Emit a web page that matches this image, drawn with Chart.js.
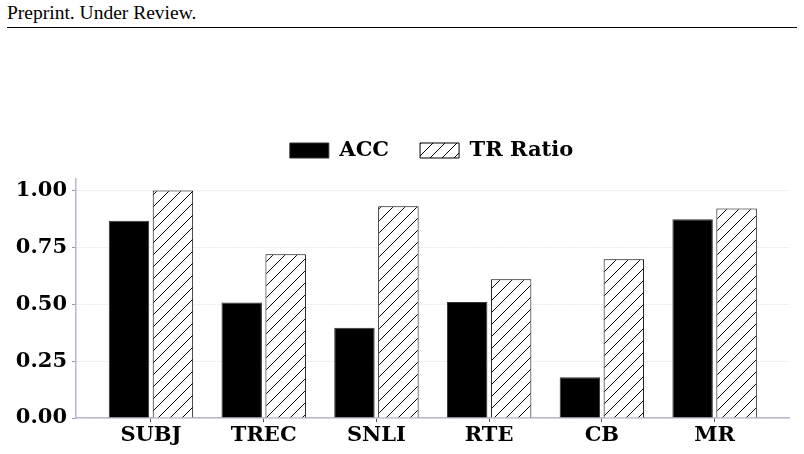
<!DOCTYPE html>
<html>
<head>
<meta charset="utf-8">
<script src="https://cdn.jsdelivr.net/npm/chart.js@4.4.1/dist/chart.umd.min.js"></script>
<style>
  html, body { margin: 0; padding: 0; background: #fff; }
  #wrap { position: relative; width: 804px; height: 454px; overflow: hidden; }
  #header { position: absolute; left: 7px; top: 2px; font-family: "Liberation Serif", "Times New Roman", serif; font-size: 19.5px; color: #000; }
  #rule { position: absolute; left: 7px; top: 26.5px; width: 790px; height: 0; border-top: 1.5px solid #000; }
  #c { position: absolute; left: 0; top: 0; }
</style>
</head>
<body>
<div id="wrap">
  <div id="header">Preprint. Under Review.</div>
  <div id="rule"></div>
  <canvas id="c" width="804" height="454"></canvas>
</div>
<script>
const categories = ["SUBJ", "TREC", "SNLI", "RTE", "CB", "MR"];
const accValues = [0.867, 0.507, 0.397, 0.510, 0.179, 0.873];
const trRatioValues = [1.00, 0.719, 0.930, 0.610, 0.697, 0.920];
const seriesNames = ["ACC", "TR Ratio"];
const yTicks = [0, 0.25, 0.5, 0.75, 1.0];

function hatchPattern() {
  const s = 12;
  const pc = document.createElement('canvas');
  pc.width = s; pc.height = s;
  const g = pc.getContext('2d');
  g.fillStyle = '#fff';
  g.fillRect(0, 0, s, s);
  g.strokeStyle = '#000';
  g.lineWidth = 1;
  g.beginPath();
  g.moveTo(0, s); g.lineTo(s, 0);
  g.moveTo(-s/2, s/2); g.lineTo(s/2, -s/2);
  g.moveTo(s/2, s + s/2); g.lineTo(s + s/2, s/2);
  g.stroke();
  return g.createPattern(pc, 'repeat');
}

const ctx = document.getElementById('c').getContext('2d');
const hatch = hatchPattern();
const tickFont = { family: "'DejaVu Serif', serif", weight: 'bold', size: 21 };
const legendFont = { family: "'DejaVu Serif', serif", weight: 'bold', size: 21 };

const LEGEND_SHIFT = -8;
const shiftLegend = {
  id: 'shiftLegend',
  beforeDraw(chart) {
    const lg = chart.legend;
    if (lg && !lg._shifted) {
      lg.left = chart.chartArea.left - 1;
      lg.right = chart.chartArea.right - 1;
      lg.width = lg.right - lg.left;
      lg.top += LEGEND_SHIFT;
      lg.bottom += LEGEND_SHIFT;
      lg._shifted = true;
    }
  }
};

new Chart(ctx, {
  type: 'bar',
  data: {
    datasets: [
      {
        label: seriesNames[0],
        data: categories.map((c, i) => ({ x: i, y: accValues[i] })),
        backgroundColor: '#000',
        borderColor: '#333',
        borderWidth: 1
      },
      {
        label: seriesNames[1],
        data: categories.map((c, i) => ({ x: i, y: trRatioValues[i] })),
        backgroundColor: hatch,
        borderColor: '#000',
        borderWidth: 1
      }
    ]
  },
  plugins: [shiftLegend],
  options: {
    responsive: false,
    animation: false,
    devicePixelRatio: 1,
    categoryPercentage: 0.78,
    barPercentage: 0.92,
    layout: { padding: { left: 0, right: 15, top: 117, bottom: 0 } },
    plugins: {
      tooltip: { enabled: false },
      legend: {
        position: 'top',
        labels: {
          boxWidth: 39,
          boxHeight: 15,
          padding: 31,
          color: '#000',
          font: legendFont,
          generateLabels: (chart) => {
            const base = Chart.defaults.plugins.legend.labels.generateLabels(chart);
            return base;
          }
        }
      }
    },
    scales: {
      x: {
        type: 'linear',
        offset: false,
        min: -0.665,
        max: 5.66,
        afterFit: (s) => { s.height = 36; },
        ticks: {
          stepSize: 1,
          includeBounds: false,
          autoSkip: false,
          maxRotation: 0,
          color: '#000',
          font: tickFont,
          padding: 1,
          callback: (v) => (Number.isInteger(v) && categories[v] !== undefined) ? categories[v] : ''
        },
        grid: { offset: false, drawOnChartArea: false, drawTicks: true, tickLength: 4, tickColor: '#555' },
        border: { display: true, color: '#b8b8cc', width: 1.5 }
      },
      y: {
        min: 0,
        max: 1.05,
        afterFit: (s) => { s.width = 76; },
        afterBuildTicks: (s) => { s.ticks = yTicks.map(v => ({ value: v })); },
        ticks: {
          color: '#000',
          font: tickFont,
          padding: 5,
          callback: (v) => v.toFixed(2)
        },
        grid: { color: '#d6d6d6', tickLength: 4, tickColor: '#999', tickBorderDash: [] },
        border: { display: true, color: '#b8b8cc', width: 1.5, dash: [1, 2] }
      }
    }
  }
});
</script>
</body>
</html>
